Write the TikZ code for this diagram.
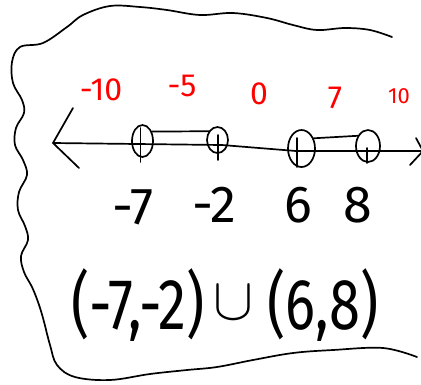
\documentclass[tikz,border=0pt]{standalone}
\usepackage{fontspec}
\setmainfont{Fira Sans}
\usetikzlibrary{shapes.geometric}
\tikzset{
  ink/.style={line width=1.7pt, line cap=round, line join=round, black},
  ring/.style={ink, draw, ellipse, inner sep=0pt},
  redlbl/.style={text=red, inner sep=0pt, font=\fontsize{32}{34}\selectfont},
  blklbl/.style={text=black, inner sep=0pt, font=\fontsize{52}{54}\selectfont},
  exprlbl/.style={text=black, inner sep=0pt, font=\fontsize{72}{74}\selectfont},
}
\begin{document}
\begin{tikzpicture}[x=1pt, y={(0pt,-1pt)}]
\useasboundingbox (0,0) rectangle (421,384);
% wavy border
\draw[ink] plot[smooth, tension=0.6] coordinates {
 (392,37) (370,30) (345,28) (317,30) (293,25) (267,18) (233,13) (200,15) (167,10)
 (140,7) (110,6) (83,15) (67,27) (43,43) (20,47) (12,62) (13,83) (22,100) (24,113)
 (16,128) (15,145) (23,160) (27,175) (19,192) (18,210) (25,226) (28,240) (21,256)
 (24,272) (32,287) (38,302) (43,318) (50,345) (57,365) (75,377) (110,380) (150,374)
 (187,370) (217,367) (253,360) (293,353) (333,350) (383,348) (417,357)};
% circles
\node[ring, minimum width=21pt, minimum height=32pt] (c7) at (142.5,141) {};
\node[ring, minimum width=21pt, minimum height=26pt] (c2) at (217.5,140) {};
\node[ring, minimum width=27pt, minimum height=37pt] (c6) at (301.5,148.5) {};
\node[ring, minimum width=24pt, minimum height=32pt] (c8) at (368,146) {};
% number line
\coordinate (tipL) at (53,143);
\coordinate (m2) at (222,145);
\coordinate (bend) at (296,151);
\coordinate (tipR) at (423,151);
\draw[ink] (tipL) -- (m2) -- (bend) -- (tipR);
\draw[ink] (73,108) -- (tipL) -- (79,168);
\draw[ink] (416,138) -- (tipR) -- (410,165);
% ticks
\draw[ink] (140.5,128) -- (140.5,162);
\draw[ink] (218,135) -- (218,160);
\draw[ink] (297,138) -- (297,167);
\draw[ink] (367,148) -- (367,163);
% bars
\draw[ink] (c7.45) -- (c2.135);
\draw[ink] (c6.40) -- (c8.135);
% red labels
\node[redlbl] (r10n) at (101,90) {-10};
\node[redlbl] (r5n) at (182,86) {-5};
\node[redlbl] (r0) at (259,94) {0};
\node[redlbl] (r7) at (335,98) {7};
\node[redlbl, font=\fontsize{22}{24}\selectfont] (r10) at (399,96) {10};
% black labels
\node[blklbl] (b7) at (133,207) {-7};
\node[blklbl] (b2) at (214,205) {-2};
\node[blklbl] (b6) at (298,205) {6};
\node[blklbl] (b8) at (358,205) {8};
% expression
\node[exprlbl] (ea) at (138,305) {\scalebox{0.78}[1]{(-7,-2)}};
\node[inner sep=0pt] (eu) at (233,303) {\scalebox{6}{$\cup$}};
\node[exprlbl] (eb) at (323,305) {\scalebox{0.78}[1]{(6,8)}};
\end{tikzpicture}
\end{document}
